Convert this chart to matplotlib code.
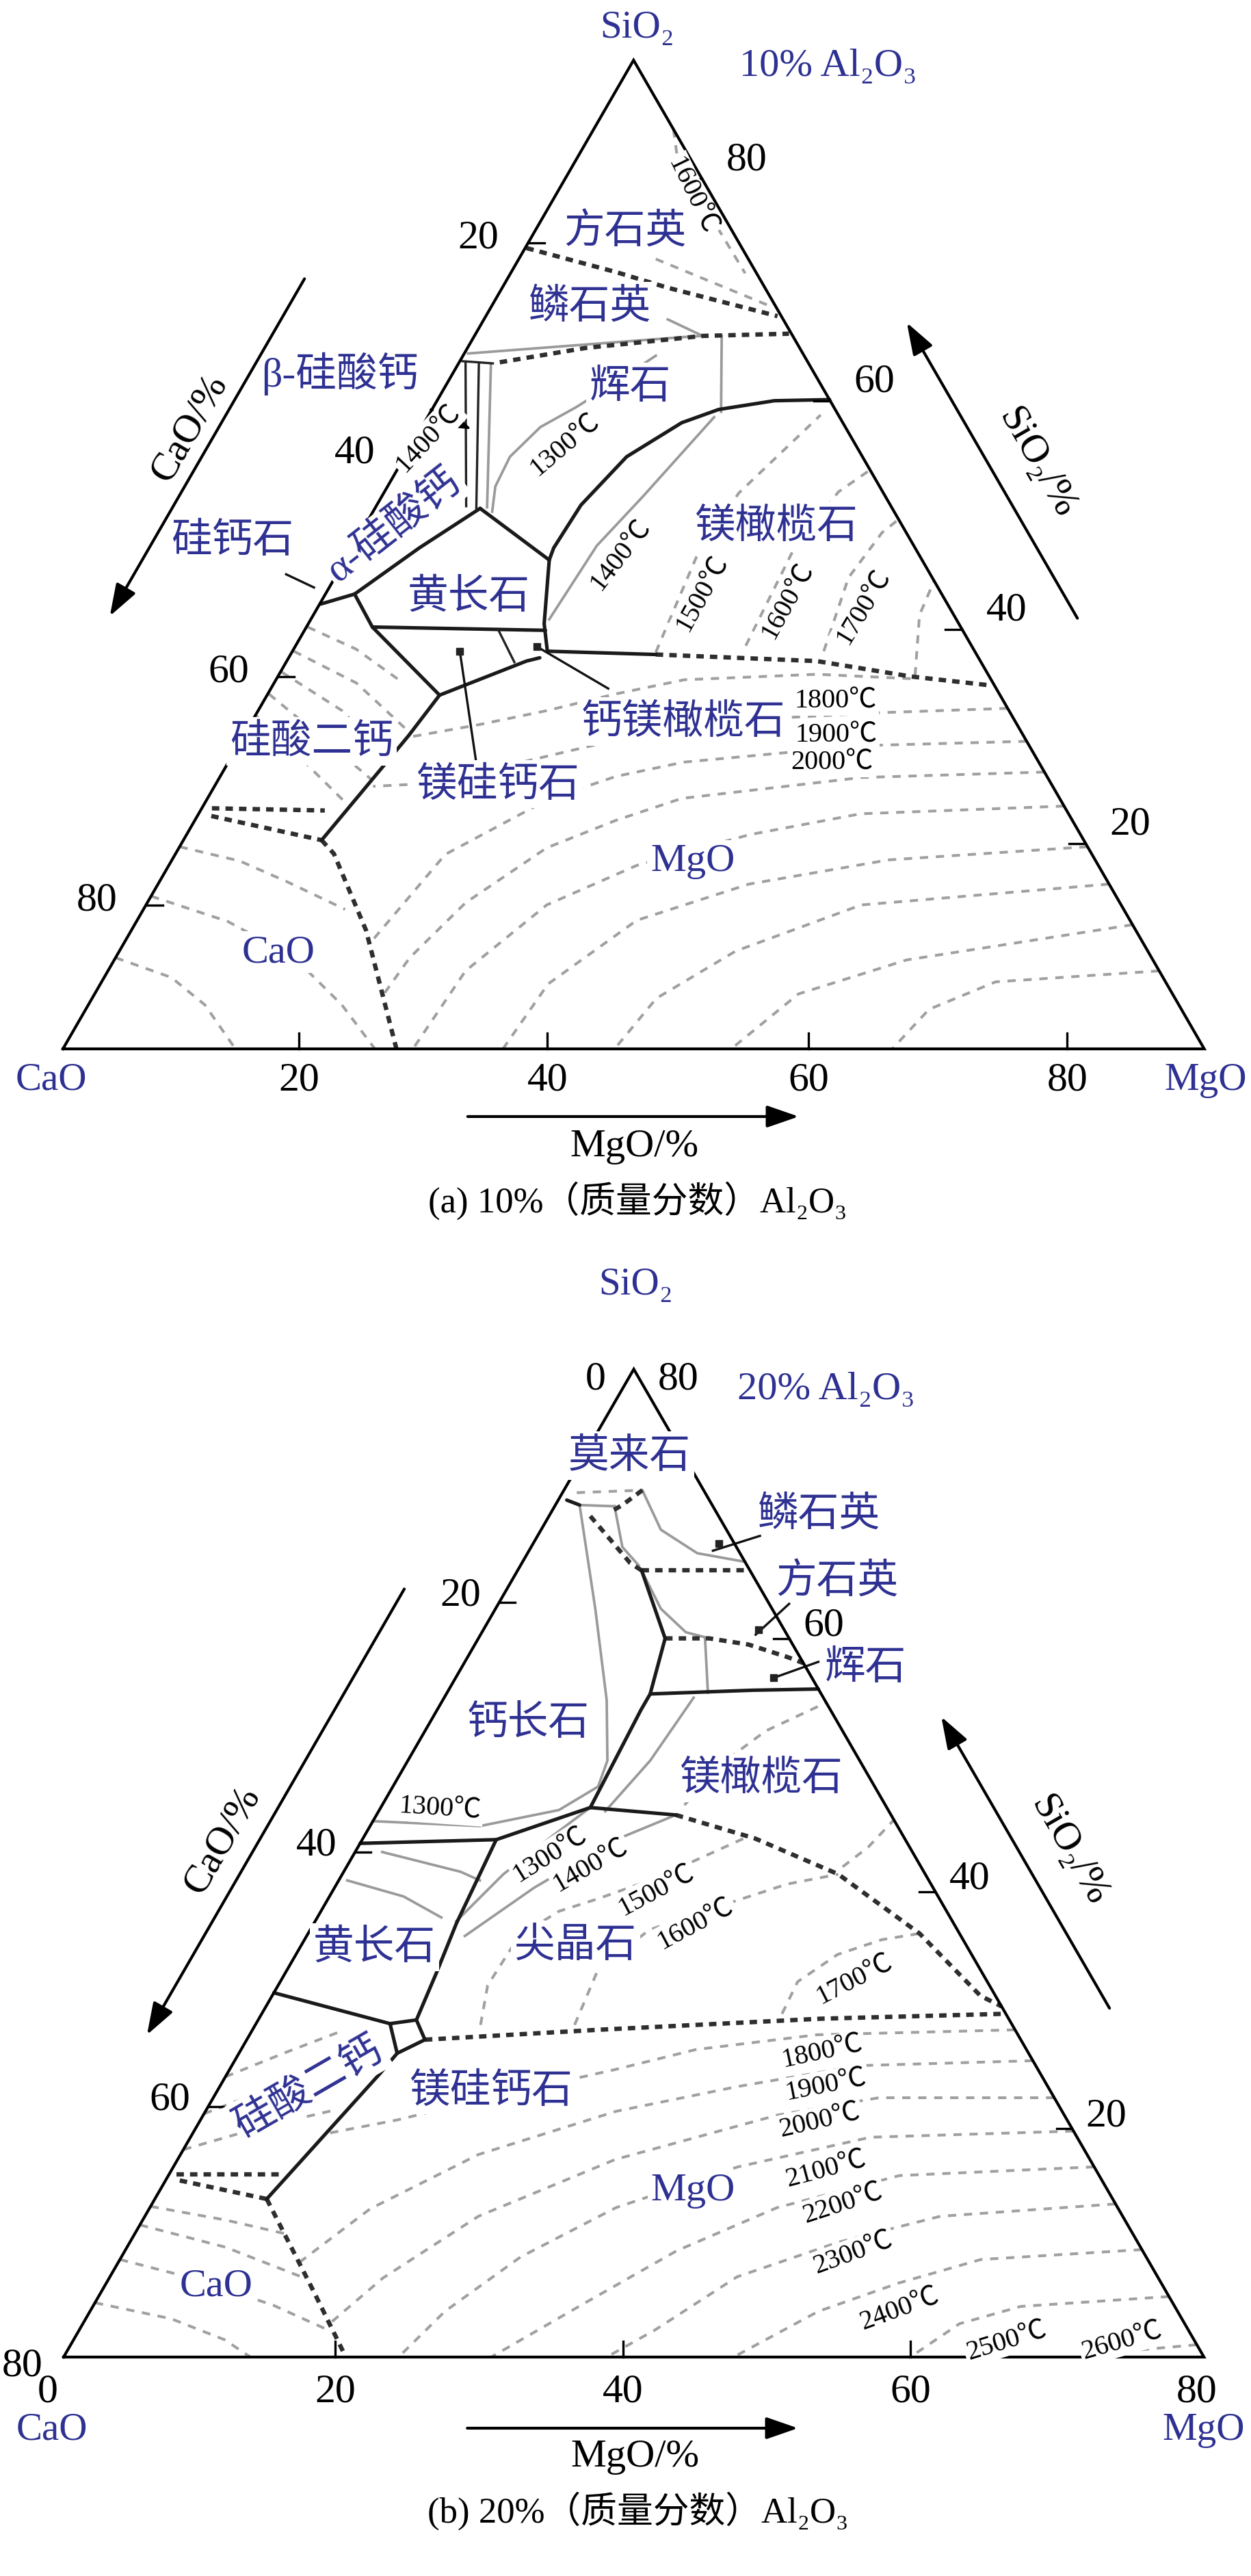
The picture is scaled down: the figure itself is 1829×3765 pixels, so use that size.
import numpy as np
import matplotlib.pyplot as plt

R3 = np.sqrt(3) / 2
BLUE = '#2e3192'
SERIF = ['Liberation Serif', 'Noto Sans CJK SC', 'DejaVu Serif']
CJK = ['Noto Sans CJK SC', 'Liberation Serif', 'DejaVu Serif']

# ===== (a) 10% Al2O3 : points are (MgO %, SiO2 %), CaO = 90 - MgO - SiO2
a_total = 90
a_tick_labels = ['20', '40', '60', '80']
a_left_ticks = [16.65, 36.2, 56.1, 76.9]      # CaO, where the figure puts them
a_right_ticks = [18.7, 38.2, 59.0, 79.2]      # SiO2
a_bottom_ticks = [18.6, 38.2, 58.8, 79.2]     # MgO

# heavy dashed boundaries
a_cris_trid = [(0.1, 72.9), (8.3, 70.7), (13.0, 69.3), (23.0, 66.7)]
a_trid_pyr = [(3.2, 62.5), (9.3, 63.8), (18.0, 64.9), (24.7, 65.1)]
a_fo_mgo = [(28.8, 35.9), (41.8, 35.3), (49.9, 33.9), (56.5, 33.1)]
a_c2s_cao_1 = [(0.8, 21.9), (9.8, 21.7)]
a_c2s_cao_2 = [(1.1, 21.2), (10.9, 19.0)]
a_cao_mgo = [(10.9, 19.0), (12.5, 17.75), (18.5, 10.8), (26.3, 0.0)]

# solid black boundaries
a_pyr_fo = [(30.9, 59.1), (26.6, 59.0), (22.6, 58.2), (20.3, 57.0), (17.5, 53.9),
            (16.1, 49.5), (15.9, 45.6), (16.1, 44.5)]
a_fo_mel = [(16.1, 44.5), (18.6, 38.7), (20.1, 36.2), (28.8, 35.9)]
a_pyr_mel = [(16.1, 44.5), (8.3, 49.2)]
a_cs_mel = [(8.3, 49.2), (5.3, 45.6), (3.3, 42.8), (2.3, 41.4)]
a_rank = [(2.3, 41.4), (0.1, 40.5)]
a_mel_c2s = [(2.3, 41.4), (5.2, 38.4), (13.6, 32.2)]
a_mel_low = [(5.2, 38.4), (19.0, 38.1)]
a_mer_top = [(13.6, 32.2), (18.9, 35.3), (19.8, 35.6)]
a_mer_small = [(15.3, 38.1), (18.0, 35.2)]
a_c2s_mer = [(13.6, 32.2), (13.0, 28.5), (12.3, 25.3), (10.9, 19.0)]
a_cs_pair_1 = [(0.5, 62.5), (7.1, 49.4)]
a_cs_pair_2 = [(1.6, 62.4), (8.0, 49.2)]
a_cs_cap = [(0.2, 62.6), (2.7, 62.4)]

# grey solid lines
a_cs_top = [(0.3, 63.3), (16.6, 64.8), (18.0, 64.9)]
a_trid_short = [(14.5, 66.4), (18.0, 64.9)]
a_pyr_div = [(19.5, 64.9), (22.9, 58.0)]
a_cs_pair_3 = [(2.6, 62.3), (8.8, 49.3)]
a_iso_1300 = [(9.4, 48.9), (8.5, 51.2), (8.3, 53.9), (9.35, 56.6), (11.25, 58.4),
              (13.3, 60.7), (15.2, 63.1)]
a_iso_1400 = [(22.6, 57.5), (20.6, 50.3), (19.2, 45.8), (18.8, 39.1)]

# grey dashed isotherms
a_iso_1600_si = [(6.3, 83.7), (9.2, 79.0), (14.3, 74.7), (18.5, 70.6)]
a_trid_dash = [(10.8, 71.9), (22.0, 67.6)]
a_iso_1500 = [(28.7, 36.1), (27.5, 45.3), (28.0, 50.6), (30.9, 57.7)]
a_iso_1600 = [(35.5, 36.7), (34.9, 45.3), (35.8, 50.7), (37.3, 52.7)]
a_iso_1700 = [(41.9, 36.2), (40.5, 42.9), (41.1, 47.0), (41.8, 48.2)]
a_iso_1750 = [(50.2, 34.0), (47.8, 39.5), (47.4, 42.6)]
a_mgo_1 = [(50.0, 33.7), (42.4, 34.1), (32.2, 33.6), (27.4, 32.3), (22.8, 30.8), (18.0, 29.5), (13.2, 28.4)]
a_mgo_2 = [(59.0, 31.0), (49.1, 30.6), (39.4, 30.0), (29.5, 28.1), (22.5, 25.9), (17.5, 24.2), (12.5, 23.9)]
a_mgo_3 = [(62.0, 28.0), (49.1, 27.6), (35.9, 26.1), (31.2, 24.8), (26.9, 22.7), (21.3, 17.7), (19.4, 9.6)]
a_mgo_4 = [(64.8, 25.2), (50.6, 24.7), (37.4, 22.8), (33.2, 20.8), (29.0, 18.3), (25.1, 13.3), (23.2, 8.3), (22.8, 4.9)]
a_mgo_5 = [(67.9, 22.1), (52.2, 21.4), (44.4, 19.5), (36.9, 16.7), (31.6, 13.1), (28.2, 7.1), (27.6, 0.0)]
a_mgo_6 = [(71.6, 18.4), (56.5, 17.2), (46.6, 15.0), (39.4, 11.7), (35.3, 5.9), (34.7, 0.0)]
a_mgo_7 = [(75.0, 15.0), (56.4, 13.1), (48.6, 8.9), (44.5, 4.6), (43.5, 0.0)]
a_mgo_8 = [(78.7, 11.3), (62.5, 8.1), (55.5, 5.0), (52.7, 0.0)]
a_mgo_9 = [(82.9, 7.1), (70.5, 6.1), (66.5, 3.6), (65.4, 0.0)]
a_cao_1 = [(0.0, 8.3), (5.3, 6.5), (9.2, 4.0), (13.6, 0.0)]
a_cao_2 = [(0.0, 13.9), (7.2, 11.6), (14.1, 8.3), (20.0, 4.0), (24.6, 0.0)]
a_cao_3 = [(0.0, 18.4), (5.4, 17.1), (10.1, 15.2), (15.9, 12.7)]
a_c2s_1 = [(0.1, 38.4), (4.9, 36.4), (10.2, 33.3)]
a_c2s_2 = [(0.1, 36.2), (6.5, 33.3), (12.8, 28.9)]
a_c2s_3 = [(0.1, 34.3), (6.6, 30.8), (12.5, 26.4)]
a_c2s_4 = [(0.1, 32.3), (6.3, 28.3), (12.1, 24.5)]
a_c2s_5 = [(0.1, 30.3), (5.6, 26.4), (11.1, 22.4)]

# leader lines
a_lead_rank = [(-4.0, 43.2), (-1.2, 42.0)]
a_lead_mer = [(13.2, 36.2), (19.6, 26.0)]
a_lead_mtc = [(19.1, 36.6), (26.6, 32.8)]
a_marks = [(13.2, 36.2), (19.1, 36.6)]

# ===== (b) 20% Al2O3 : points are (MgO %, SiO2 %), CaO = 80 - MgO - SiO2
b_total = 80
b_tick_labels = ['20', '40', '60']
b_left_ticks = [18.9, 39.1, 59.7]
b_right_ticks = [18.5, 37.7, 58.2]
b_bottom_ticks = [19.05, 39.25, 59.4]
b_bottom_labels = ['0', '20', '40', '60', '80']
b_bottom_label_pos = [-1.1, 19.05, 39.25, 59.4, 79.5]

b_mul_1 = [(5.5, 70.2), (4.7, 69.0), (4.3, 68.6)]
b_mul_2 = [(2.9, 68.1), (7.6, 64.3), (8.7, 63.7)]
b_trid_cris = [(8.7, 63.7), (16.3, 63.7)]
b_cris_pyr = [(13.1, 58.2), (16.2, 58.2), (19.2, 57.7), (22.4, 56.7), (23.8, 56.2)]
b_fo_mgo = [(21.0, 43.9), (27.5, 42.0), (34.8, 39.1), (42.9, 34.3), (49.7, 29.25), (51.6, 28.4)]
b_sp_mgo = [(12.5, 25.7), (24.2, 26.5), (39.4, 27.4), (52.2, 27.8)]
b_c2s_cao_1 = [(0.5, 14.8), (8.0, 14.8)]
b_c2s_cao_2 = [(1.0, 14.3), (7.85, 12.8)]
b_cao_mgo = [(7.85, 12.8), (14.9, 5.3), (19.8, 0.0)]

b_mul_short = [(0.6, 69.4), (1.7, 69.0)]
b_k1_k3 = [(8.7, 63.7), (13.1, 58.2), (14.3, 53.7)]
b_k3_edge = [(14.3, 53.7), (21.3, 54.0), (25.9, 54.1)]
b_k3_k4 = [(14.3, 53.7), (14.3, 52.4), (14.7, 44.5)]
b_k4_right = [(14.7, 44.5), (21.0, 43.9)]
b_k4_k5 = [(14.7, 44.5), (9.4, 41.9)]
b_k5_edge = [(9.4, 41.9), (0.0, 41.6)]
b_k5_k6 = [(9.4, 41.9), (10.0, 35.1), (10.6, 31.1), (11.1, 27.3)]
b_edge_k6 = [(0.0, 29.5), (9.4, 27.0)]
b_square = [(9.4, 27.0), (11.1, 27.3), (12.5, 25.7), (11.1, 24.6), (9.4, 27.0)]
b_k6_k7 = [(11.1, 24.6), (10.7, 22.9), (7.85, 12.8)]

b_mul_top = [(1.0, 70.0), (5.5, 70.2)]
b_mul_gray = [(1.7, 69.0), (4.2, 68.9)]
b_mul_par = [(4.2, 68.9), (6.4, 65.6), (8.3, 64.1)]
b_trid_curve = [(5.5, 70.2), (8.4, 67.0), (11.9, 65.1), (15.6, 64.4)]
b_pyr_curve = [(8.7, 63.7), (11.6, 60.6), (14.3, 58.7), (16.2, 58.2)]
b_pyr_div = [(15.9, 58.2), (18.3, 53.8)]
b_an_1300 = [(1.7, 69.0), (7.0, 60.6), (11.5, 53.2), (14.0, 48.3), (14.4, 46.2),
             (12.6, 44.3), (7.7, 43.0), (0.0, 43.4)]
b_fo_1400 = [(17.5, 53.4), (17.0, 48.3), (15.9, 44.2)]
b_mel_1 = [(1.9, 40.9), (8.2, 39.3), (9.9, 38.6)]
b_mel_2 = [(0.6, 38.6), (5.2, 37.3), (8.7, 35.6)]
b_sp_1300 = [(9.9, 35.3), (11.3, 39.1), (13.0, 41.9), (14.7, 44.5)]
b_sp_1400 = [(11.1, 34.1), (14.0, 38.0), (17.8, 41.9), (21.0, 43.9)]

b_sp_1500 = [(15.8, 26.9), (14.7, 30.1), (14.9, 34.1), (16.7, 36.1), (18.9, 37.1), (22.2, 38.8), (27.0, 42.2)]
b_sp_1600 = [(22.4, 26.9), (21.8, 31.4), (23.8, 34.6), (27.3, 36.3), (31.6, 38.3), (34.8, 39.1)]
b_sp_1700 = [(36.5, 27.8), (36.3, 30.4), (38.0, 32.6), (40.5, 33.8), (42.9, 34.3)]
b_fo_1 = [(21.2, 44.7), (22.3, 48.3), (23.9, 50.7), (27.0, 53.0)]
b_fo_2 = [(34.8, 39.7), (35.8, 41.3), (36.5, 43.5)]
b_mgo_1800 = [(53.5, 26.5), (39.8, 26.1), (31.9, 24.9), (27.1, 23.3), (18.7, 20.8), (13.8, 19.2), (9.4, 18.1)]
b_mgo_1900 = [(56.0, 24.0), (44.0, 23.6), (36.3, 21.9), (28.8, 19.9), (20.9, 16.4), (15.5, 12.0), (12.6, 7.5)]
b_mgo_2000 = [(59.0, 21.0), (46.7, 21.0), (40.3, 19.6), (30.7, 16.0), (23.4, 11.4), (19.2, 6.4), (17.2, 2.5)]
b_mgo_2100 = [(61.7, 18.3), (47.7, 17.8), (39.6, 15.4), (32.7, 12.1), (28.0, 8.1), (24.9, 3.7), (23.5, 0.0)]
b_mgo_2200 = [(64.6, 15.4), (51.3, 14.7), (44.0, 12.1), (38.7, 8.6), (34.2, 4.2), (30.0, 0.0)]
b_mgo_2300 = [(67.6, 12.4), (55.8, 11.4), (49.7, 9.3), (44.0, 6.5), (40.4, 2.2), (38.1, 0.0)]
b_mgo_2400 = [(71.3, 8.7), (60.4, 7.9), (55.6, 6.0), (51.1, 3.7), (47.0, 0.0)]
b_mgo_2500 = [(75.1, 4.9), (65.1, 4.1), (61.5, 2.7), (59.4, 0.0)]
b_mgo_2600 = [(79.0, 1.0), (74.9, 0.55), (72.8, 0.0)]
b_cao_1 = [(0.0, 4.4), (6.0, 3.1), (10.6, 1.4), (13.1, 0.0)]
b_cao_2 = [(0.0, 7.9), (5.8, 6.4), (12.6, 4.2), (17.2, 2.3)]
b_cao_3 = [(0.0, 10.7), (6.9, 8.9), (13.7, 6.4)]
b_cao_4 = [(0.0, 12.2), (5.8, 11.1), (10.5, 10.0)]
b_c2s_1 = [(0.0, 19.7), (3.8, 21.9), (7.5, 24.2)]
b_c2s_2 = [(0.0, 22.7), (3.3, 24.7), (6.3, 26.4)]
b_c2s_3 = [(0.0, 16.8), (4.5, 18.6), (9.0, 20.0)]

b_lead_trid = [(12.9, 65.3), (15.6, 66.5)]
b_lead_cris = [(19.3, 58.5), (20.4, 61.0)]
b_lead_pyr = [(22.3, 55.0), (24.8, 56.3)]
b_marks = [(13.0, 65.9), (19.3, 58.9), (22.3, 55.0)]


def to_xy(pts):
    p = np.asarray(pts, dtype=float)
    return p[:, 0] + p[:, 1] / 2, p[:, 1] * R3


STYLE = {
    'heavy': dict(color='#2e2e2e', lw=4.6, ls=(0, (1.7, 1.4)), zorder=4),
    'bound': dict(color='#1a1a1a', lw=3.7, zorder=5, solid_capstyle='round'),
    'thin': dict(color='#222222', lw=2.4, zorder=5),
    'gray': dict(color='#9a9a9a', lw=2.7, zorder=3),
    'gdash': dict(color='#a0a0a0', lw=2.9, ls=(0, (3.0, 2.8)), zorder=2),
    'lead': dict(color='#111111', lw=2.4, zorder=6),
}


def draw(ax, lines, kind):
    for pts in lines:
        x, y = to_xy(pts)
        ax.plot(x, y, **STYLE[kind])


def put(ax, m, s, text, size, color='black', family=SERIF, rot=0, box=False):
    x, y = to_xy([(m, s)])
    t = ax.text(x[0], y[0], text, fontsize=size, color=color, family=family,
                rotation=rot, rotation_mode='anchor', ha='center', va='center', zorder=9)
    if box:
        t.set_bbox(dict(boxstyle='square,pad=0.08', fc='white', ec='none'))


def arrow(ax, start, end):
    (x0,), (y0,) = to_xy([start])
    (x1,), (y1,) = to_xy([end])
    ax.annotate('', xy=(x1, y1), xytext=(x0, y0),
                arrowprops=dict(arrowstyle='-|>,head_length=1.3,head_width=0.45', lw=3,
                                color='black', mutation_scale=22, shrinkA=0, shrinkB=0))


def edge_xy(total, side, v):
    if side == 'bottom':
        pts = [(v, 0)]
    elif side == 'left':
        pts = [(0, total - v)]
    else:
        pts = [(total - v, v)]
    (x,), (y,) = to_xy(pts)
    return x, y


def triangle(ax, total):
    x, y = to_xy([(0, 0), (total, 0), (0, total), (0, 0)])
    ax.plot(x, y, color='black', lw=3, zorder=7, solid_joinstyle='miter')


def tick_marks(ax, total, side, vals, tlen):
    for v in vals:
        x, y = edge_xy(total, side, v)
        if side == 'bottom':
            ax.plot([x, x], [0, tlen], color='black', lw=2.4, zorder=7)
        elif side == 'left':
            ax.plot([x, x + tlen], [y, y], color='black', lw=2.4, zorder=7)
        else:
            ax.plot([x - tlen, x], [y, y], color='black', lw=2.4, zorder=7)


def tick_text(ax, total, side, vals, texts, dx, dy):
    for v, t in zip(vals, texts):
        x, y = edge_xy(total, side, v)
        ax.text(x + dx, y + dy, t, fontsize=43, family=SERIF, ha='center', va='center', zorder=9)


W, H = 1829, 3766
fig = plt.figure(figsize=(W / 100, H / 100), dpi=100)
fig.patch.set_facecolor('white')


def make_axes(y0, y1, ox, oy, s):
    ax = fig.add_axes([0, 1 - y1 / H, 1, (y1 - y0) / H])
    ax.set_xlim(-ox / s, (W - ox) / s)
    ax.set_ylim((oy - y1) / s, (oy - y0) / s)
    ax.axis('off')
    return ax


# ---------------- panel (a)
ax = make_axes(0, 1883, 92, 1534, 18.54)
draw(ax, [a_iso_1600_si, a_trid_dash, a_iso_1500, a_iso_1600, a_iso_1700, a_iso_1750,
          a_mgo_1, a_mgo_2, a_mgo_3, a_mgo_4, a_mgo_5, a_mgo_6, a_mgo_7, a_mgo_8, a_mgo_9,
          a_cao_1, a_cao_2, a_cao_3, a_c2s_1, a_c2s_2, a_c2s_3, a_c2s_4, a_c2s_5], 'gdash')
draw(ax, [a_cs_top, a_trid_short, a_pyr_div, a_cs_pair_3, a_iso_1300, a_iso_1400], 'gray')
draw(ax, [a_cris_trid, a_trid_pyr, a_fo_mgo, a_c2s_cao_1, a_c2s_cao_2, a_cao_mgo], 'heavy')
draw(ax, [a_pyr_fo, a_fo_mel, a_pyr_mel, a_cs_mel, a_rank, a_mel_c2s, a_mel_low,
          a_mer_top, a_c2s_mer], 'bound')
draw(ax, [a_mer_small, a_cs_pair_1, a_cs_pair_2, a_cs_cap], 'thin')
draw(ax, [a_lead_rank, a_lead_mer, a_lead_mtc], 'lead')
mx, my = to_xy(a_marks)
ax.plot(mx, my, 's', ms=7, color='#222222', zorder=6)
(x0,), (y0,) = to_xy([(-0.1, 58.2)])
(x1,), (y1,) = to_xy([(4.0, 56.4)])
ax.annotate('', xy=(x1, y1), xytext=(x0, y0),
            arrowprops=dict(arrowstyle='-|>,head_length=0.8,head_width=0.3', lw=2.4,
                            color='black', mutation_scale=20, shrinkA=0, shrinkB=0), zorder=8)

triangle(ax, a_total)
tick_marks(ax, a_total, 'left', a_left_ticks, 1.3)
tick_marks(ax, a_total, 'right', a_right_ticks, 1.3)
tick_marks(ax, a_total, 'bottom', a_bottom_ticks, 1.25)
tick_text(ax, a_total, 'left', a_left_ticks, a_tick_labels, -3.9, 0.4)
tick_text(ax, a_total, 'right', a_right_ticks, a_tick_labels, 3.5, 1.5)
tick_text(ax, a_total, 'bottom', a_bottom_ticks, a_tick_labels, 0, -2.45)
arrow(ax, (-16.0, 70.1), (-16.0, 39.4))
arrow(ax, (60.4, 39.2), (33.5, 66.1))
arrow(ax, (35.0, -6.16), (61.1, -6.16))

put(ax, -1.2, 93.0, 'SiO₂', 41, BLUE)
put(ax, 15.6, 89.5, '10% Al₂O₃', 42, BLUE)
put(ax, 7.1, 74.5, '方石英', 43, BLUE, CJK, box=True)
put(ax, 7.7, 67.6, '鳞石英', 43, BLUE, CJK, box=True)
put(ax, 10.7, 77.7, '1600℃', 29, rot=-64, box=True)
put(ax, -8.9, 61.5, 'β-硅酸钙', 43, BLUE)
put(ax, 14.6, 60.3, '辉石', 43, BLUE, CJK, box=True)
put(ax, -18.3, 56.6, 'CaO/%', 42, rot=60)
put(ax, 12.1, 55.0, '1300℃', 29, rot=40, box=True)
put(ax, 1.0, 55.6, '1400℃', 29, rot=47, box=True)
put(ax, 2.3, 47.6, 'α-硅酸钙', 43, BLUE, rot=38, box=True)
put(ax, -9.8, 46.3, '硅钙石', 43, BLUE, CJK)
put(ax, 11.4, 41.2, '黄长石', 43, BLUE, CJK, box=True)
put(ax, 32.5, 47.6, '镁橄榄石', 43, BLUE, CJK, box=True)
put(ax, 21.5, 45.0, '1400℃', 29, rot=52, box=True)
put(ax, 29.7, 41.5, '1500℃', 29, rot=61, box=True)
put(ax, 36.8, 40.8, '1600℃', 29, rot=61, box=True)
put(ax, 43.0, 40.3, '1700℃', 29, rot=59, box=True)
put(ax, 34.0, 29.8, '钙镁橄榄石', 43, BLUE, CJK, box=True)
put(ax, 45.1, 31.7, '1800℃', 29, box=True)
put(ax, 46.7, 28.6, '1900℃', 29, box=True)
put(ax, 47.6, 26.1, '2000℃', 29, box=True)
put(ax, 5.6, 28.0, '硅酸二钙', 43, BLUE, CJK, box=True)
put(ax, 22.3, 24.1, '镁硅钙石', 43, BLUE, CJK, box=True)
put(ax, 41.1, 17.1, 'MgO', 42, BLUE, box=True)
put(ax, 12.6, 8.8, 'CaO', 42, BLUE, box=True)
put(ax, 50.1, 53.4, 'SiO₂/%', 42, rot=-60)
put(ax, 0.5, -2.8, 'CaO', 41, BLUE)
put(ax, 91.5, -2.8, 'MgO', 41, BLUE)
put(ax, 49.5, -8.84, 'MgO/%', 42)
put(ax, 52.2, -13.76, '(a) 10%（质量分数）Al₂O₃', 38)

# ---------------- panel (b)
ax = make_axes(1883, 3766, 93, 3446, 20.84)
draw(ax, [b_mul_top, b_sp_1500, b_sp_1600, b_sp_1700, b_fo_1, b_fo_2,
          b_mgo_1800, b_mgo_1900, b_mgo_2000, b_mgo_2100, b_mgo_2200, b_mgo_2300,
          b_mgo_2400, b_mgo_2500, b_mgo_2600, b_cao_1, b_cao_2, b_cao_3, b_cao_4,
          b_c2s_1, b_c2s_2, b_c2s_3], 'gdash')
draw(ax, [b_mul_gray, b_mul_par, b_trid_curve, b_pyr_curve, b_pyr_div, b_an_1300,
          b_fo_1400, b_mel_1, b_mel_2, b_sp_1300, b_sp_1400], 'gray')
draw(ax, [b_mul_1, b_mul_2, b_trid_cris, b_cris_pyr, b_fo_mgo, b_sp_mgo,
          b_c2s_cao_1, b_c2s_cao_2, b_cao_mgo], 'heavy')
draw(ax, [b_mul_short, b_k1_k3, b_k3_edge, b_k3_k4, b_k4_right, b_k4_k5, b_k5_edge,
          b_k5_k6, b_edge_k6, b_square, b_k6_k7], 'bound')
draw(ax, [b_lead_trid, b_lead_cris, b_lead_pyr], 'lead')
mx, my = to_xy(b_marks)
ax.plot(mx, my, 's', ms=7, color='#222222', zorder=6)

triangle(ax, b_total)
tick_marks(ax, b_total, 'left', b_left_ticks, 1.1)
tick_marks(ax, b_total, 'right', b_right_ticks, 1.1)
tick_marks(ax, b_total, 'bottom', b_bottom_ticks, 1.1)
tick_text(ax, b_total, 'left', b_left_ticks, b_tick_labels, -2.7, 0.5)
tick_text(ax, b_total, 'right', b_right_ticks, b_tick_labels, 2.4, 0.9)
tick_text(ax, b_total, 'bottom', b_bottom_label_pos, b_bottom_labels, 0, -2.4)
tick_text(ax, b_total, 'left', [80], ['80'], -2.9, -0.6)
tick_text(ax, b_total, 'left', [0], ['0'], -2.7, -0.7)
tick_text(ax, b_total, 'right', [80], ['80'], 3.1, -0.7)
arrow(ax, (-7.2, 62.2), (-7.2, 26.1))
arrow(ax, (59.25, 28.25), (35.65, 51.85))
arrow(ax, (31.2, -5.76), (54.4, -5.76))

put(ax, -3.3, 86.9, 'SiO₂', 41, BLUE)
put(ax, 14.3, 78.4, '20% Al₂O₃', 42, BLUE)
put(ax, 3.2, 73.0, '莫来石', 43, BLUE, CJK, box=True)
put(ax, 18.8, 68.3, '鳞石英', 43, BLUE, CJK)
put(ax, 22.8, 62.9, '方石英', 43, BLUE, CJK)
put(ax, 28.3, 55.9, '辉石', 43, BLUE, CJK)
put(ax, 6.9, 51.4, '钙长石', 43, BLUE, CJK, box=True)
put(ax, 25.5, 46.9, '镁橄榄石', 43, BLUE, CJK, box=True)
put(ax, 4.2, 44.4, '1300℃', 29, rot=-4, box=True)
put(ax, -9.8, 41.9, 'CaO/%', 42, rot=60)
put(ax, 13.8, 40.7, '1300℃', 29, rot=32, box=True)
put(ax, 17.1, 39.8, '1400℃', 29, rot=30, box=True)
put(ax, 22.7, 37.8, '1500℃', 29, rot=28, box=True)
put(ax, 26.8, 35.1, '1600℃', 29, rot=28, box=True)
put(ax, 5.2, 33.2, '黄长石', 43, BLUE, CJK, box=True)
put(ax, 19.2, 33.4, '尖晶石', 43, BLUE, CJK, box=True)
put(ax, 40.2, 30.6, '1700℃', 29, rot=27, box=True)
put(ax, 6.2, 21.9, '硅酸二钙', 43, BLUE, CJK, rot=30, box=True)
put(ax, 19.2, 21.6, '镁硅钙石', 43, BLUE, CJK, box=True)
put(ax, 40.9, 24.7, '1800℃', 29, rot=12, box=True)
put(ax, 42.5, 22.0, '1900℃', 29, rot=11, box=True)
put(ax, 43.5, 19.1, '2000℃', 29, rot=13, box=True)
put(ax, 45.9, 15.2, '2100℃', 29, rot=15, box=True)
put(ax, 48.5, 12.4, '2200℃', 29, rot=18, box=True)
put(ax, 51.2, 8.4, '2300℃', 29, rot=20, box=True)
put(ax, 56.7, 3.9, '2400℃', 29, rot=20, box=True)
put(ax, 65.5, 1.3, '2500℃', 29, rot=17, box=True)
put(ax, 73.6, 1.3, '2600℃', 29, rot=16, box=True)
put(ax, 37.4, 13.5, 'MgO', 42, BLUE, box=True)
put(ax, 7.8, 5.8, 'CaO', 42, BLUE, box=True)
put(ax, 50.0, 41.1, 'SiO₂/%', 42, rot=-60)
put(ax, 2.1, -5.87, 'CaO', 41, BLUE)
put(ax, 82.9, -5.87, 'MgO', 41, BLUE)
put(ax, 44.1, -8.03, 'MgO/%', 42)
put(ax, 46.5, -12.41, '(b) 20%（质量分数）Al₂O₃', 38)

fig.savefig('out.png', dpi=100, facecolor='white')
